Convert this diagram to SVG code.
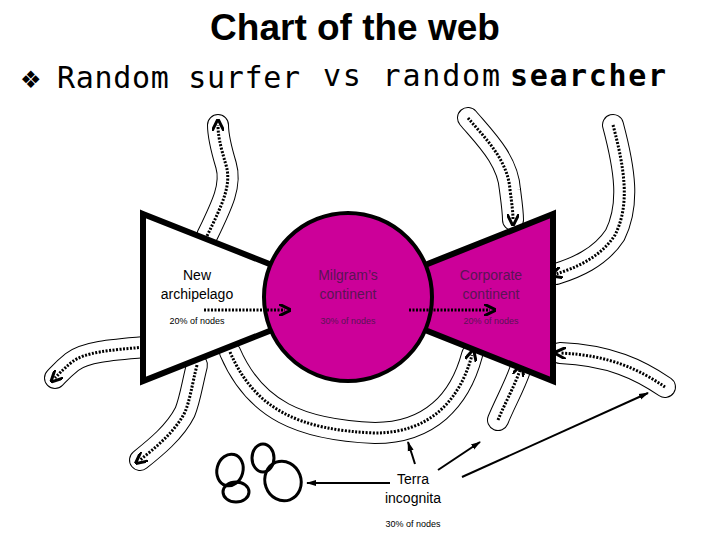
<svg xmlns="http://www.w3.org/2000/svg" width="720" height="540" viewBox="0 0 720 540">
<style>
.t{font-family:"Liberation Sans",Arial,sans-serif;text-anchor:middle}
.o{fill:none;stroke:#000;stroke-width:22;stroke-linecap:round;stroke-linejoin:round}
.w{fill:none;stroke:#fff;stroke-width:20;stroke-linecap:round;stroke-linejoin:round}
.d{fill:none;stroke:#000;stroke-width:3;stroke-dasharray:2 1.5}
.a{fill:none;stroke:#000;stroke-width:2}
.p{fill:#5a1455}
</style>
<defs>
<marker id="ah" viewBox="0 0 10 10" refX="5" refY="5" markerWidth="4" markerHeight="4" orient="auto"><path d="M0,0L10,5L0,10" fill="none" stroke="#000" stroke-width="2.5"/></marker>
<marker id="sa" viewBox="0 0 10 10" refX="9" refY="5" markerWidth="5" markerHeight="5" orient="auto"><path d="M0,2L10,5L0,8z" fill="#000"/></marker>
<path id="p1" d="M207,236 C222,205 232,185 226,165 C220,145 218,135 218,125"/>
<path id="p2" d="M146,347 C110,350 85,352 72,362 C62,370 58,375 55,378"/>
<path id="p3" d="M197,365 C192,385 190,400 185,412 C175,432 155,448 140,460"/>
<path id="p4" d="M230,352 C255,410 300,430 375,433 C430,433 460,400 472,355"/>
<path id="p5" d="M468,118 C485,138 508,160 510,190 C512,205 513,212 513,220"/>
<path id="p6" d="M613,125 C625,170 630,205 615,235 C600,258 575,268 556,274"/>
<path id="p7" d="M665,387 C640,370 610,355 560,353"/>
<path id="p8" d="M498,420 C505,403 515,385 520,370"/>
</defs>
<rect width="720" height="540" fill="#fff"/>
<text x="355" y="40" class="t" font-size="37" font-weight="bold">Chart of the web</text>
<text x="20" y="88" font-family="DejaVu Sans,sans-serif" font-size="24">❖</text>
<text x="57" y="88" font-family="DejaVu Sans Mono,monospace" font-size="30" textLength="243">Random surfer</text>
<text x="323" y="86" font-family="DejaVu Sans Mono,monospace" font-size="30" textLength="177">vs random</text>
<text x="510" y="86" font-family="DejaVu Sans Mono,monospace" font-size="30" font-weight="bold" textLength="156">searcher</text>
<g id="connectors">
<g class="o"><use href="#p1"/><use href="#p2"/><use href="#p3"/><use href="#p4"/><use href="#p5"/><use href="#p6"/><use href="#p7"/><use href="#p8"/></g>
<g class="w"><use href="#p1"/><use href="#p2"/><use href="#p3"/><use href="#p4"/><use href="#p5"/><use href="#p6"/><use href="#p7"/><use href="#p8"/></g>
<g class="d" marker-end="url(#ah)"><use href="#p1"/><use href="#p2"/><use href="#p3"/><use href="#p4"/><use href="#p5"/><use href="#p6"/><use href="#p7"/><use href="#p8"/></g>
</g>
<g id="new-archipelago">
<polygon points="143,214 272,265 272,330 143,381" fill="#fff" stroke="#000" stroke-width="6"/>
<text x="197" y="280" class="t" font-size="14">New</text>
<text x="197" y="299" class="t" font-size="14">archipelago</text>
<text x="197" y="324" class="t" font-size="9">20% of nodes</text>
</g>
<g id="corporate-continent">
<polygon points="553,214 425,265 425,330 553,381" fill="#cc0099" stroke="#000" stroke-width="6"/>
<text x="491" y="280" class="t p" font-size="14">Corporate</text>
<text x="491" y="299" class="t p" font-size="14">continent</text>
<text x="491" y="324" class="t p" font-size="9">20% of nodes</text>
</g>
<g id="milgrams-continent">
<circle cx="348" cy="297" r="84" fill="#cc0099" stroke="#000" stroke-width="4"/>
<text x="348" y="280" class="t p" font-size="14">Milgram’s</text>
<text x="348" y="299" class="t p" font-size="14">continent</text>
<text x="348" y="324" class="t p" font-size="9">30% of nodes</text>
</g>
<g class="d" marker-end="url(#ah)">
<path d="M204,310 H285"/><path d="M409,310 H490"/>
</g>
<g id="islands" fill="none" stroke="#000" stroke-width="3">
<ellipse cx="230" cy="470" rx="13" ry="16" transform="rotate(15 230 470)"/>
<ellipse cx="263" cy="458" rx="11" ry="14"/>
<ellipse cx="283" cy="481" rx="18" ry="20" transform="rotate(-20 283 481)"/>
<ellipse cx="236" cy="492" rx="13" ry="10"/>
</g>
<g id="terra-incognita">
<text x="413" y="484" class="t" font-size="14">Terra</text>
<text x="413" y="503" class="t" font-size="14">incognita</text>
<text x="413" y="527" class="t" font-size="9">30% of nodes</text>
</g>
<g class="a" marker-end="url(#sa)">
<path d="M390,483 H307"/><path d="M415,464 L408,442"/><path d="M438,470 L480,442"/><path d="M462,477 L648,393"/>
</g>
</svg>
